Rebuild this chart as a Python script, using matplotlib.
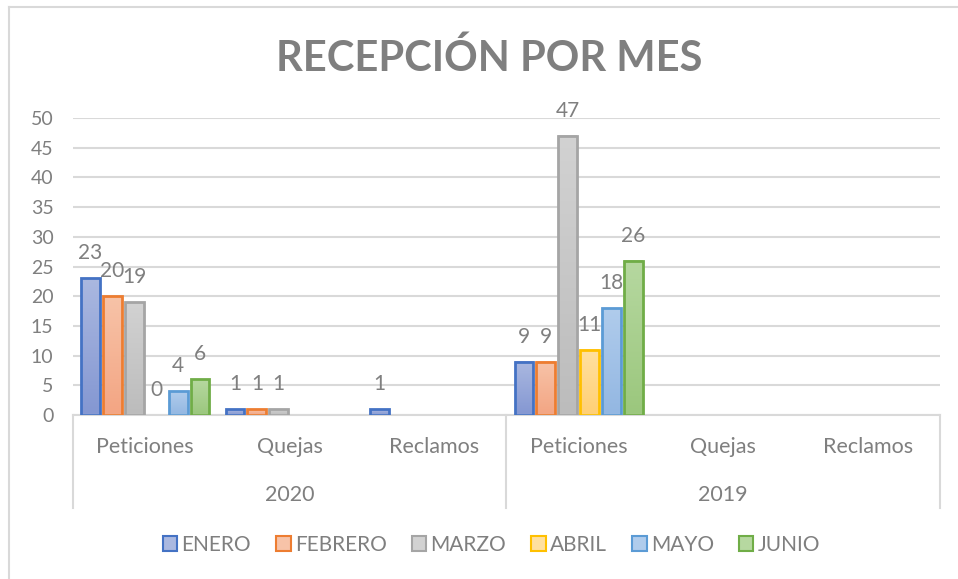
import numpy as np
import matplotlib
matplotlib.use("Agg")
from matplotlib import pyplot as plt
from matplotlib.colors import LinearSegmentedColormap
from matplotlib.patches import Rectangle
from matplotlib.lines import Line2D

# data (None = no bar / no label)
years = ["2020", "2019"]
types = ["Peticiones", "Quejas", "Reclamos"]
months = ["ENERO", "FEBRERO", "MARZO", "ABRIL", "MAYO", "JUNIO"]
enero = [23, 1, 1, 9, None, None]
febrero = [20, 1, None, 9, None, None]
marzo = [19, 1, None, 47, None, None]
abril = [0, None, None, 11, None, None]
mayo = [4, None, None, 18, None, None]
junio = [6, None, None, 26, None, None]
series = [enero, febrero, marzo, abril, mayo, junio]

edge_colors = ["#4472C4", "#ED7D31", "#A5A5A5", "#FFC000", "#5B9BD5", "#70AD47"]
top_colors = ["#AAB8E0", "#F7C3A8", "#D2D2D2", "#FFE0A0", "#B0CCEC", "#B6D8A0"]
bot_colors = ["#8497D2", "#F3A583", "#BCBCBC", "#FFD075", "#93B7E2", "#9BC77D"]

grey = "#7F7F7F"
line_grey = "#D9D9D9"
plt.rcParams["font.family"] = ["Lato", "DejaVu Sans"]

fig = plt.figure(figsize=(9.58, 5.79), dpi=100)
ax = fig.add_axes([73 / 958, 1 - 415 / 579, (940 - 73) / 958, (415 - 118) / 579])

n_cat = len(years) * len(types)
bar_w = 0.131
step = 0.1516
x0 = np.arange(n_cat)

for i, vals in enumerate(series):
    cmap = LinearSegmentedColormap.from_list("g", [bot_colors[i], top_colors[i]])
    for j, v in enumerate(vals):
        if v is None:
            continue
        xc = x0[j] + (i - 2.5) * step + 0.5
        if v > 0:
            grad = np.linspace(0, 1, 64).reshape(-1, 1)
            ax.imshow(grad, extent=(xc - bar_w / 2, xc + bar_w / 2, 0, v), origin="lower",
                      cmap=cmap, aspect="auto", zorder=2)
            ax.add_patch(Rectangle((xc - bar_w / 2, 0), bar_w, v, fill=False,
                                   edgecolor=edge_colors[i], linewidth=2, zorder=3))
        ax.annotate(str(v), (xc, v), xytext=(0, 18), textcoords="offset points",
                    ha="center", va="center", fontsize=15, color=grey)

ax.set_xlim(0, n_cat)
ax.set_ylim(0, 50)
ax.set_aspect("auto")
ax.set_yticks(np.arange(0, 51, 5))
ax.yaxis.grid(True, color=line_grey, linewidth=1.5)
ax.set_axisbelow(True)
ax.set_xticks([])
ax.tick_params(axis="y", length=0, labelsize=14, labelcolor=grey, pad=14)
for s in ["top", "right", "left"]:
    ax.spines[s].set_visible(False)
ax.spines["bottom"].set_color(line_grey)
ax.spines["bottom"].set_linewidth(1.5)

# multi-level category axis
trans = ax.get_xaxis_transform()
for xv in [0, 3, 6]:
    ax.plot([xv, xv], [0, -0.313], transform=trans, color=line_grey, lw=1.5, clip_on=False)
for j in range(n_cat):
    ax.text(j + 0.5, -0.108, types[j % 3], transform=trans, ha="center", va="center",
            fontsize=15.5, color=grey)
for k, yr in enumerate(years):
    ax.text(3 * k + 1.5, -0.27, yr, transform=trans, ha="center", va="center",
            fontsize=15.5, color=grey)

fig.text(0.511, 1 - 58 / 579, "RECEPCIÓN POR MES", ha="center", va="center",
         fontsize=30, fontweight="bold", color="#7F7F7F")

handles = [Rectangle((0, 0), 1, 1, facecolor=top_colors[i], edgecolor=edge_colors[i], lw=1.5)
           for i in range(len(months))]
fig.legend(handles, months, loc="center", bbox_to_anchor=(0.513, 1 - 545 / 579), ncol=6,
           frameon=False, fontsize=15, labelcolor=grey, handlelength=0.7, handleheight=0.7,
           handletextpad=0.2, columnspacing=1.2)

# chart frame (left and top edges visible)
fig.add_artist(Line2D([9 / 958, 9 / 958], [0, 1 - 7 / 579], color=line_grey, lw=1.5))
fig.add_artist(Line2D([9 / 958, 1], [1 - 7 / 579, 1 - 7 / 579], color=line_grey, lw=1.5))

fig.savefig("out.png", dpi=100, facecolor="white")
